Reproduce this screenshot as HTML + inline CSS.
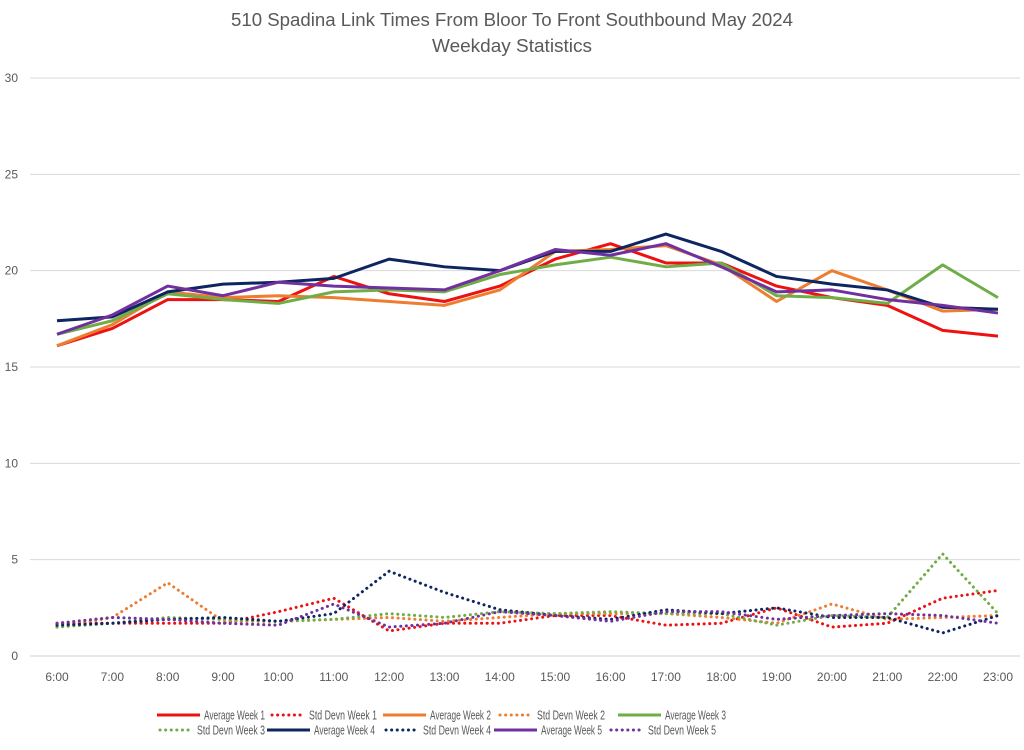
<!DOCTYPE html>
<html><head><meta charset="utf-8"><style>
body{margin:0;background:#fff;font-family:"Liberation Sans",sans-serif}
svg text{font-family:"Liberation Sans",sans-serif;fill:#595959}
</style></head><body>
<svg id="chart" width="1024" height="745" xmlns="http://www.w3.org/2000/svg">
<text x="512" y="26" text-anchor="middle" font-size="18" textLength="562" lengthAdjust="spacingAndGlyphs">510 Spadina Link Times From Bloor To Front Southbound May 2024</text>
<text x="512" y="52" text-anchor="middle" font-size="18" textLength="160" lengthAdjust="spacingAndGlyphs">Weekday Statistics</text>
<g id="grid"></g><g id="series"></g><g id="legend"></g>
</svg>
<script>
const categories=["6:00","7:00","8:00","9:00","10:00","11:00","12:00","13:00","14:00","15:00","16:00","17:00","18:00","19:00","20:00","21:00","22:00","23:00"];
const yTicks=[0,5,10,15,20,25,30];
const avgWeek1=[16.1,17.0,18.5,18.5,18.4,19.7,18.8,18.4,19.2,20.6,21.4,20.4,20.4,19.2,18.6,18.2,16.9,16.6];
const avgWeek2=[16.1,17.2,18.9,18.6,18.7,18.6,18.4,18.2,19.0,21.0,21.1,21.3,20.3,18.4,20.0,19.0,17.9,18.0];
const avgWeek3=[16.7,17.4,18.8,18.5,18.3,18.9,19.0,18.9,19.8,20.3,20.7,20.2,20.4,18.7,18.6,18.3,20.3,18.6];
const avgWeek4=[17.4,17.6,18.9,19.3,19.4,19.6,20.6,20.2,20.0,21.0,21.0,21.9,21.0,19.7,19.3,19.0,18.1,18.0];
const avgWeek5=[16.7,17.7,19.2,18.7,19.4,19.2,19.1,19.0,20.0,21.1,20.8,21.4,20.2,18.9,19.0,18.5,18.2,17.8];
const sdWeek1=[1.7,1.7,1.7,1.7,2.3,3.0,1.3,1.7,1.7,2.1,2.1,1.6,1.7,2.5,1.5,1.7,3.0,3.4];
const sdWeek2=[1.5,2.0,3.8,1.8,1.8,1.9,2.0,1.8,2.0,2.2,2.2,2.2,2.0,1.7,2.7,1.9,2.0,2.1];
const sdWeek3=[1.5,1.7,2.0,1.9,1.8,1.9,2.2,2.0,2.3,2.2,2.3,2.2,2.2,1.6,2.1,2.0,5.3,2.2];
const sdWeek4=[1.6,1.7,1.9,2.0,1.8,2.2,4.4,3.3,2.4,2.1,1.9,2.4,2.2,2.5,2.0,2.0,1.2,2.1];
const sdWeek5=[1.7,2.0,1.9,1.7,1.6,2.7,1.5,1.7,2.3,2.1,1.8,2.3,2.3,1.9,2.1,2.2,2.1,1.7];
const NS="http://www.w3.org/2000/svg";
const x0=57,x1=998,yb=656,yt=78,vmax=30;
const xs=i=>x0+i*(x1-x0)/(categories.length-1);
const ys=v=>yb-v*(yb-yt)/vmax;
function mk(tag,at,parent){const e=document.createElementNS(NS,tag);for(const k in at)e.setAttribute(k,at[k]);parent.appendChild(e);return e;}
const grid=document.getElementById('grid');
yTicks.forEach(t=>{
 const l=mk('line',{x1:30,x2:1020,y1:ys(t),y2:ys(t),stroke:t===0?'#d0d0d0':'#d9d9d9','stroke-width':1},grid);
 
 
 const tx=mk('text',{x:18,y:ys(t)+4,'text-anchor':'end','font-size':12},grid);tx.textContent=t;
 
 
});
categories.forEach((c,i)=>{
 const tx=mk('text',{x:xs(i),y:681,'text-anchor':'middle','font-size':12},grid);tx.textContent=c;
 
 
});
const series=[
 ["Average Week 1",avgWeek1,"#ee1111",false],["Std Devn Week 1",sdWeek1,"#ee1111",true],
 ["Average Week 2",avgWeek2,"#ed7d31",false],["Std Devn Week 2",sdWeek2,"#ed7d31",true],
 ["Average Week 3",avgWeek3,"#70ad47",false],["Std Devn Week 3",sdWeek3,"#70ad47",true],
 ["Average Week 4",avgWeek4,"#0d2560",false],["Std Devn Week 4",sdWeek4,"#0d2560",true],
 ["Average Week 5",avgWeek5,"#7030a0",false],["Std Devn Week 5",sdWeek5,"#7030a0",true]];
const sg=document.getElementById('series');
series.forEach(([n,d,c,dot])=>{
 const p=mk('polyline',{points:d.map((v,i)=>xs(i)+','+ys(v)).join(' '),fill:'none',stroke:c,'stroke-width':3,'stroke-linejoin':'round','stroke-linecap':dot?'round':'butt','stroke-dasharray':dot?'0.1 5.5':'none'},sg);
 
 
});
const legPos=[[157,715],[272,715],[383,715],[500,715],[618,715],[160,730],[267,730],[386,730],[494,730],[611,730]];
const lg=document.getElementById('legend');
series.forEach(([n,d,c,dot],k)=>{
 const [lx,ly]=legPos[k];const w=dot?33:43;
 const g=mk('g',{},lg);
 
 
 mk('line',{x1:lx,x2:lx+w,y1:ly,y2:ly,stroke:c,'stroke-width':3,'stroke-linecap':dot?'round':'butt','stroke-dasharray':dot?'0.1 5.5':'none'},g);
 const t=mk('text',{x:lx+w+4,y:ly+4.5,'font-size':13,textLength:dot?68:61,lengthAdjust:'spacingAndGlyphs'},g);t.textContent=n;
});
</script>
</body></html>
